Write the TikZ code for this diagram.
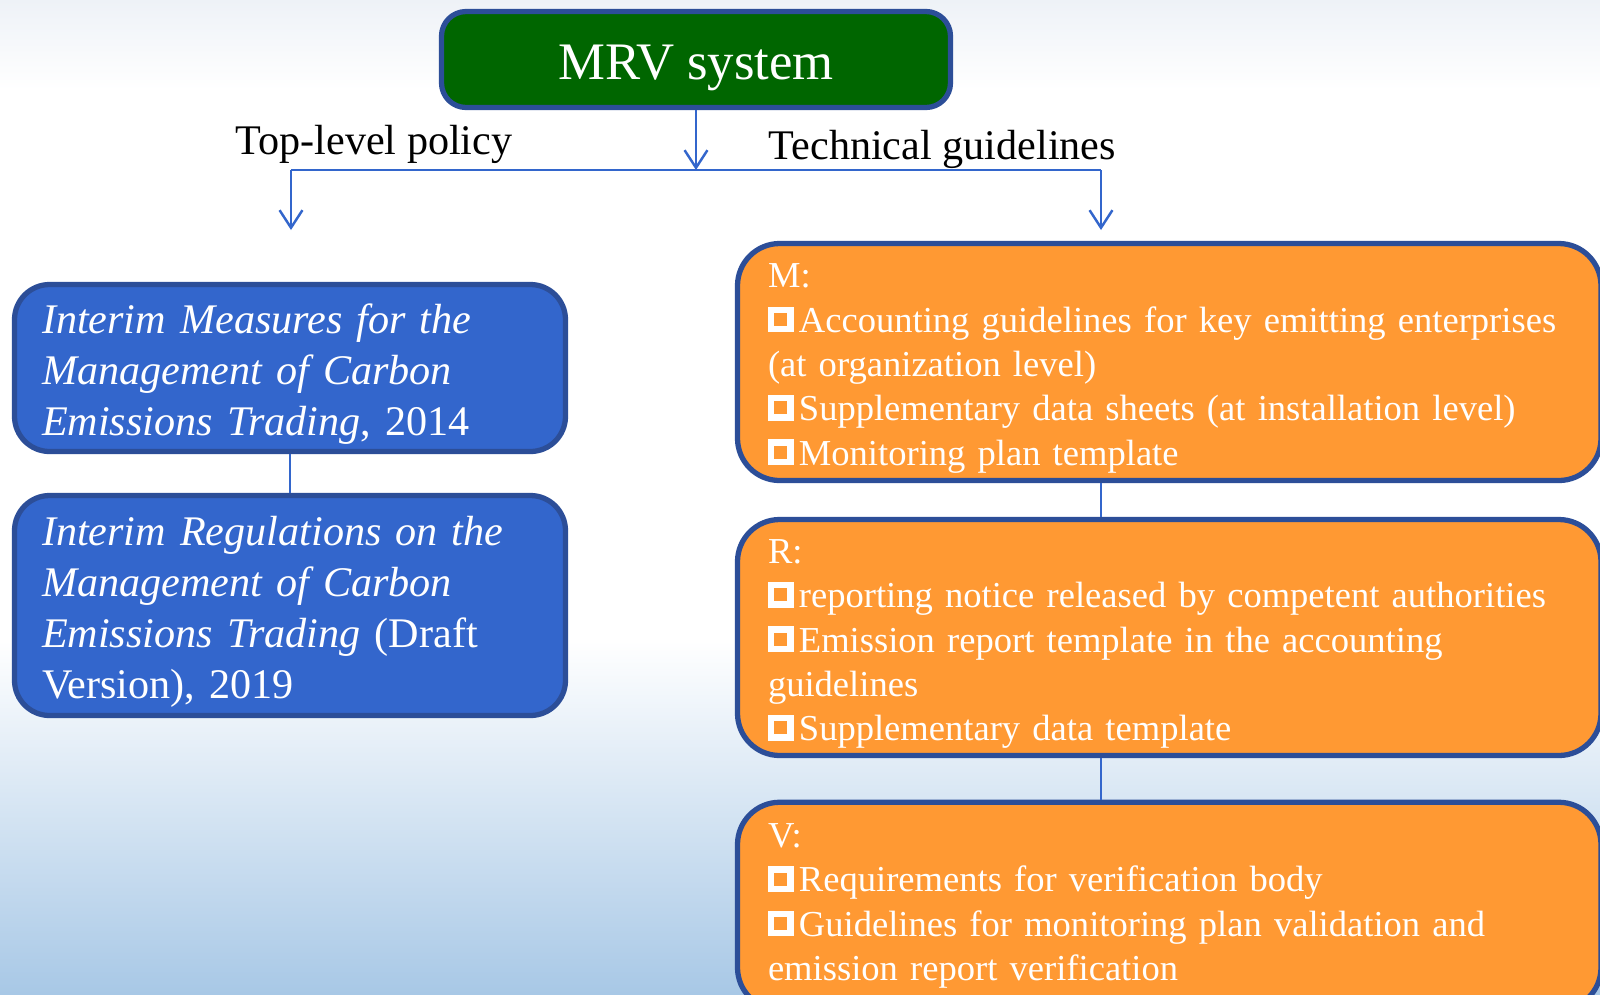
\documentclass[tikz,border=0pt]{standalone}
\usepackage{fontspec}
\setmainfont{Liberation Serif}
\usetikzlibrary{arrows.meta,positioning}

\definecolor{mrvgreen}{RGB}{0,102,0}
\definecolor{bordblue}{RGB}{44,78,152}
\definecolor{polblue}{RGB}{51,102,204}
\definecolor{mrvorange}{RGB}{255,153,51}
\definecolor{linkblue}{RGB}{51,102,204}
\definecolor{bgtop}{RGB}{238,242,247}
\definecolor{bgblue}{RGB}{168,200,230}

% hollow square bullet
\newcommand{\sqbox}{\raisebox{1.8pt}{\setlength\fboxsep{0pt}\setlength\fboxrule{1.8pt}\fbox{\rule{0pt}{3.7pt}\hspace{3.7pt}}}\hspace{1.5pt}}

\tikzset{
  conn/.style={draw=linkblue, line width=0.7pt},
  arr/.style={conn, -{Straight Barb[length=5pt,width=6.5pt]}},
  lbl/.style={font=\fontsize{12}{14.4}\selectfont, text=black, inner sep=0pt},
  mrvbox/.style={draw=bordblue, line width=1.5pt, fill=mrvgreen, rounded corners=7pt,
    text=white, font=\fontsize{15}{18}\selectfont, minimum width=5.09cm, minimum height=0.96cm,
    inner sep=0pt, text height=11.1pt, text depth=0pt},
  polbox/.style={draw=bordblue, line width=1.5pt, fill=polblue, rounded corners=10pt,
    text=white, font=\fontsize{12}{14.5}\selectfont, align=left, minimum width=5.51cm,
    text width=4.96cm, inner xsep=0.275cm, inner ysep=2pt,
    execute at begin node={\rule{0pt}{11.8pt}}},
  obox/.style={draw=bordblue, line width=1.5pt, fill=mrvorange, rounded corners=12pt,
    text=white, font=\fontsize{10.4}{12.6}\selectfont, align=left, minimum width=8.635cm,
    text width=8.025cm, inner xsep=0.305cm, inner ysep=2pt}
}

\begin{document}
\begin{tikzpicture}[x=0.1mm,y=-0.1mm]
  % background
  \useasboundingbox (0,0) rectangle (1600,994);
  \fill[white] (0,0) rectangle (1600,994);
  \shade[top color=bgtop, bottom color=white] (0,0) rectangle (1600,90);
  \shade[top color=white, bottom color=bgblue] (0,640) rectangle (1600,994);

  \node[mrvbox] (mrv) at (696,59.5) {MRV system};

  \node[lbl, anchor=base] (toppol) at (374,154) {Top-level policy};
  \node[lbl, anchor=base west] (techgl) at (768,159) {Technical guidelines};

  \coordinate (jn) at (696,170);
  \coordinate (lb) at (291,170);
  \coordinate (rb) at (1101,170);
  \coordinate (lt) at (291,230);
  \coordinate (rt) at (1101,230);

  \node[polbox, minimum height=1.67cm] (pol1) at (290,368)
    {\textit{Interim Measures for the}\\ \textit{Management of Carbon}\\ \textit{Emissions Trading}, 2014};
  \node[polbox, minimum height=2.2cm] (pol2) at (290,605.5)
    {\textit{Interim Regulations on the}\\ \textit{Management of Carbon}\\ \textit{Emissions Trading} (Draft\\ Version), 2019};

  \node[obox, minimum height=2.37cm] (mbox) at (1169.25,362)
    {\rule{0pt}{10.5pt}M:\\ \sqbox Accounting guidelines for key emitting enterprises\\ (at organization level)\\
     \sqbox Supplementary data sheets (at installation level)\\ \sqbox Monitoring plan template};
  \node[obox, minimum height=2.28cm] (rbox) at (1169.25,637.5)
    {\rule{0pt}{10.5pt}R:\\ \sqbox reporting notice released by competent authorities\\
     \sqbox Emission report template in the accounting\\ guidelines\\ \sqbox Supplementary data template};
  \node[obox, minimum height=2.075cm] (vbox) at (1169.25,906)
    {V:\\ \sqbox Requirements for verification body\\
     \sqbox Guidelines for monitoring plan validation and\\ emission report verification};

  % connectors
  \draw[arr] (mrv) -- (jn);
  \draw[conn] (lb) -- (rb);
  \draw[arr] (lb) -- (lt);
  \draw[arr] (rb) -- (rt);
  \draw[conn] (pol1) -- (pol2);
  \draw[conn] (mbox.south -| rb) -- (rbox.north -| rb);
  \draw[conn] (rbox.south -| rb) -- (vbox.north -| rb);
\end{tikzpicture}
\end{document}
